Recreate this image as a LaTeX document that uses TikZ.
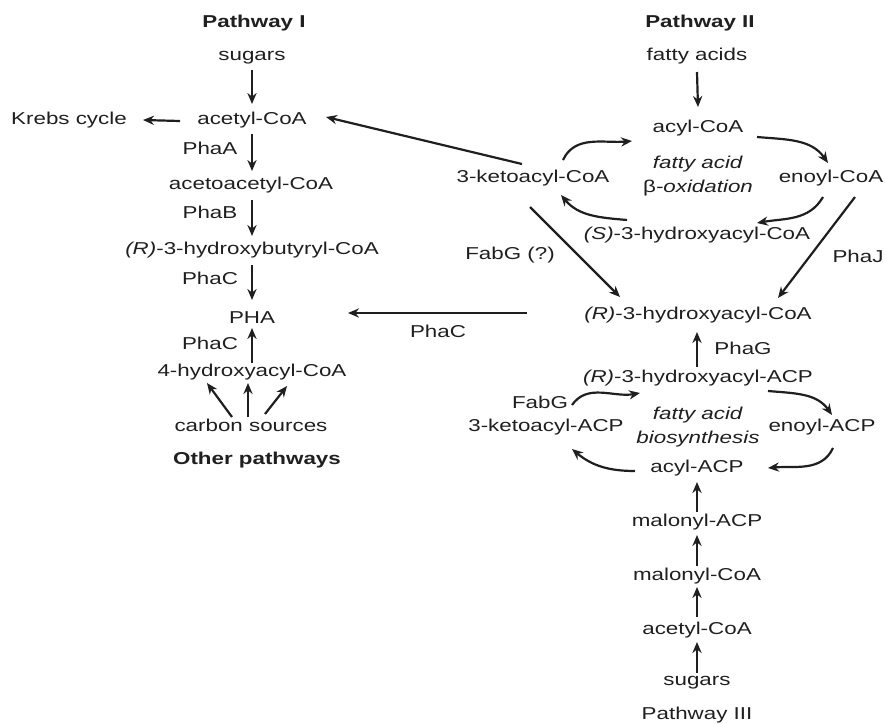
\documentclass[tikz,border=0pt]{standalone}
\usepackage{fontspec}
\setmainfont[FakeStretch=1.3]{Liberation Sans}
\usetikzlibrary{arrows.meta}
\begin{document}
\begin{tikzpicture}[x=0.5pt,y=0.5pt,
  every node/.style={inner sep=2pt,text height=6.4pt,text depth=1.8pt,text=black!88,font=\fontsize{8.6}{12}\selectfont},
  hd/.style={font=\fontsize{8.6}{12}\selectfont\bfseries},
  two/.style={align=center,text height=,text depth=},
  arr/.style={-{Stealth[length=5.5pt,width=4.6pt]},line width=1.1pt,black!88}]
\useasboundingbox (0,0) rectangle (885,-724);
% Pathway I
\node[hd] (p1) at (254,-23) {Pathway I};
\node (sugL) at (252,-56) {sugars};
\node (acL) at (252,-120) {acetyl-CoA};
\node (krebs) at (69,-120) {Krebs cycle};
\node (aca) at (251,-185) {acetoacetyl-CoA};
\node (rhb) at (252,-250) {\textit{(R)}-3-hydroxybutyryl-CoA};
\node (pha) at (252,-319) {PHA};
\node (h4) at (252,-372) {4-hydroxyacyl-CoA};
\node (cs) at (251,-427) {carbon sources};
\node[hd] (op) at (257,-460) {Other pathways};
\node (phaA) at (210,-150) {PhaA};
\node (phaB) at (210,-214) {PhaB};
\node (phaC1) at (210,-280) {PhaC};
\node (phaC2) at (210,-345) {PhaC};
% Pathway II
\node[hd] (p2) at (700,-23) {Pathway II};
\node (fa) at (697,-56) {fatty acids};
\node (acylC) at (698,-128) {acyl-CoA};
\node[two] (box) at (698,-176) {\textit{fatty acid}\\β\textit{-oxidation}};
\node (ketoC) at (533,-178) {3-ketoacyl-CoA};
\node (enoylC) at (831,-178) {enoyl-CoA};
\node (sC) at (697,-235) {\textit{(S)}-3-hydroxyacyl-CoA};
\node (rC) at (698,-315) {\textit{(R)}-3-hydroxyacyl-CoA};
\node (fabGq) at (510,-255) {FabG (?)};
\node (phaJ) at (858,-258) {PhaJ};
\node (phaC3) at (438,-333) {PhaC};
\node (phaG) at (743,-350) {PhaG};
% Pathway III
\node (rACP) at (698,-378) {\textit{(R)}-3-hydroxyacyl-ACP};
\node[two] (bio) at (698,-427) {\textit{fatty acid}\\\textit{biosynthesis}};
\node (fabG) at (540,-404) {FabG};
\node (ketoACP) at (546,-427) {3-ketoacyl-ACP};
\node (enoylACP) at (822,-427) {enoyl-ACP};
\node (acylACP) at (697,-468) {acyl-ACP};
\node (malACP) at (697,-522) {malonyl-ACP};
\node (malCoA) at (697,-576) {malonyl-CoA};
\node (acR) at (697,-630) {acetyl-CoA};
\node (sugR) at (697,-681) {sugars};
\node (p3) at (697,-715) {Pathway III};
% Pathway I arrows
\draw[arr] ([shift={(0,-14)}]sugL.center) -- ([shift={(0,16)}]acL.center);
\draw[arr] ([shift={(-72,-1)}]acL.center) -- ([shift={(74,0)}]krebs.center);
\draw[arr] ([shift={(0,-14)}]acL.center) -- ([shift={(1,14)}]aca.center);
\draw[arr] ([shift={(1,-15)}]aca.center) -- ([shift={(0,14)}]rhb.center);
\draw[arr] ([shift={(0,-15)}]rhb.center) -- ([shift={(0,19)}]pha.center);
\draw[arr] ([shift={(0,9)}]h4.center) -- ([shift={(0,-9)}]pha.center);
\draw[arr] ([shift={(-19,10)}]cs.center) -- ([shift={(-45,-11)}]h4.center);
\draw[arr] ([shift={(-3,10)}]cs.center) -- ([shift={(-4,-11)}]h4.center);
\draw[arr] ([shift={(14,13)}]cs.center) -- ([shift={(35,-14)}]h4.center);
% Pathway II arrows
\draw[arr] ([shift={(0,-16)}]fa.center) -- ([shift={(0,21)}]acylC.center);
\draw[arr] ([shift={(30,18)}]ketoC.center) to[out=65,in=185] ([shift={(-66,-13)}]acylC.center);
\draw[arr] ([shift={(59,-9)}]acylC.center) to[out=-5,in=125] ([shift={(-3,15)}]enoylC.center);
\draw[arr] ([shift={(-8,-19)}]enoylC.center) to[out=-120,in=10] ([shift={(60,12)}]sC.center);
\draw[arr] ([shift={(-70,15)}]sC.center) to[out=175,in=-50] ([shift={(28,-17)}]ketoC.center);
\draw[arr] ([shift={(-11,14)}]ketoC.center) -- ([shift={(74,3)}]acL.center);
\draw[arr] ([shift={(-3,-29)}]ketoC.center) -- ([shift={(-78,18)}]rC.center);
\draw[arr] ([shift={(24,-19)}]enoylC.center) -- ([shift={(80,17)}]rC.center);
\draw[arr] ([shift={(-171,2)}]rC.center) -- ([shift={(96,6)}]pha.center);
% Pathway III arrows
\draw[arr] ([shift={(-1,11)}]rACP.center) -- ([shift={(-1,-17)}]rC.center);
\draw[arr] ([shift={(26,22)}]ketoACP.center) to[out=55,in=190] ([shift={(-58,-15)}]rACP.center);
\draw[arr] ([shift={(70,-13)}]rACP.center) to[out=-5,in=125] ([shift={(10,12)}]enoylACP.center);
\draw[arr] ([shift={(11,-21)}]enoylACP.center) to[out=-115,in=5] ([shift={(71,0)}]acylACP.center);
\draw[arr] ([shift={(-62,-3)}]acylACP.center) to[out=180,in=-40] ([shift={(26,-22)}]ketoACP.center);
\draw[arr] ([shift={(0,10)}]malACP.center) -- ([shift={(0,-14)}]acylACP.center);
\draw[arr] ([shift={(0,10)}]malCoA.center) -- ([shift={(0,-13)}]malACP.center);
\draw[arr] ([shift={(0,13)}]acR.center) -- ([shift={(0,-11)}]malCoA.center);
\draw[arr] ([shift={(0,8)}]sugR.center) -- ([shift={(0,-12)}]acR.center);
\end{tikzpicture}
\end{document}
